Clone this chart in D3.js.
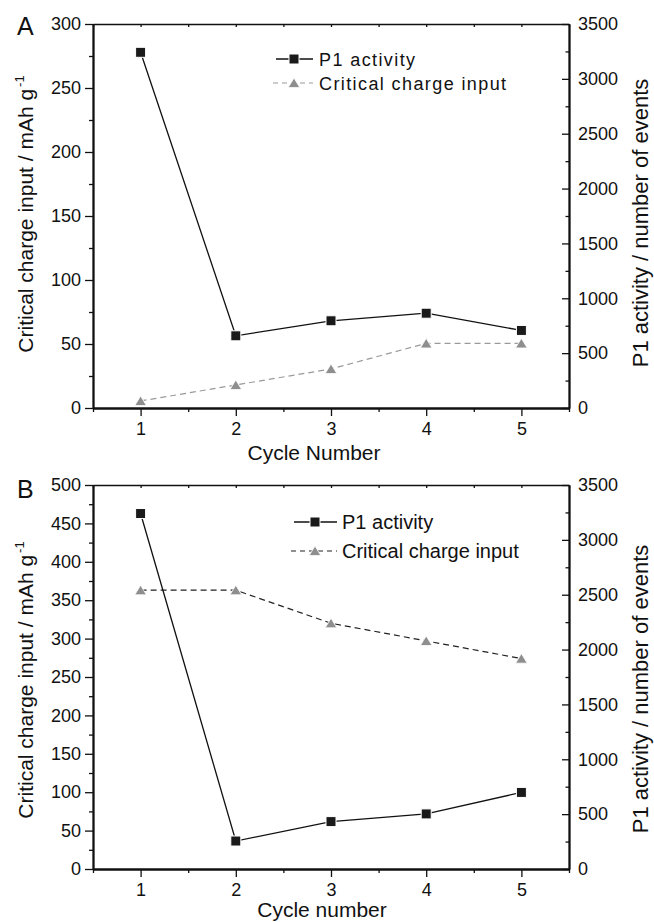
<!DOCTYPE html>
<html><head><meta charset="utf-8">
<script src="https://cdn.jsdelivr.net/npm/d3@7"></script>
<style>body{margin:0;background:#fff}svg{display:block}</style>
</head><body>
<svg id="c" width="654" height="922"></svg>
<script>
// ---- data ----
const cycles = [1, 2, 3, 4, 5];
const xTickLabels = [1, 2, 3, 4, 5];
const xMinorTicks = [0.5, 1.5, 2.5, 3.5, 4.5, 5.5];
const rightTicks = [0, 500, 1000, 1500, 2000, 2500, 3000, 3500];
const rightMinor = [250, 750, 1250, 1750, 2250, 2750, 3250];

const leftTicksA = [0, 50, 100, 150, 200, 250, 300];
const leftMinorA = [25, 75, 125, 175, 225, 275];
const p1ActivityA = [3242, 658, 795, 864, 707];
const criticalA = [5.5, 18, 30.5, 50.5, 50.5];

const leftTicksB = [0, 50, 100, 150, 200, 250, 300, 350, 400, 450, 500];
const leftMinorB = [25, 75, 125, 175, 225, 275, 325, 375, 425, 475];
const p1ActivityB = [3240, 255, 432, 502, 698];
const criticalB = [363, 363, 320, 297, 274];

const seriesNames = ["P1 activity", "Critical charge input"];
const leftTitle = "Critical charge input / mAh g";
const rightTitle = "P1 activity / number of events";

const FONT = "'Liberation Sans', Arial, Helvetica, sans-serif";
const svg = d3.select("#c");

const panels = [
  {letter: "A", top: 24, bottom: 408, leftTicks: leftTicksA, leftMinor: leftMinorA,
   p1: p1ActivityA, crit: criticalA, xTitle: "Cycle Number", critLine: "#9a9a9a",
   xTitleX: 314, xTitleY: 460, leftTitleY: 214, rightTitleY: 223, letterY: 35,
   leg: {lx1: 276, lx2: 313, mx: 294, tx: 319, y1: 59, y2: 83, fs: 18, ls: 1.4}},
  {letter: "B", top: 485, bottom: 869, leftTicks: leftTicksB, leftMinor: leftMinorB,
   p1: p1ActivityB, crit: criticalB, xTitle: "Cycle number", critLine: "#222",
   xTitleX: 322, xTitleY: 917, leftTitleY: 680, rightTitleY: 689, letterY: 498,
   leg: {lx1: 294, lx2: 337, mx: 315, tx: 342, y1: 522, y2: 551, fs: 20, ls: 0}}
];

const L = 93, R = 569;
const triPath = `M0,-5L5.8,4.6L-5.8,4.6Z`;

function styleAxis(g, fs) {
  g.attr("font-family", FONT).attr("font-size", fs);
  g.selectAll("path.domain").attr("stroke", "#111").attr("stroke-width", 1.8);
  g.selectAll(".tick line").attr("stroke", "#111").attr("stroke-width", 1.3);
  g.selectAll(".tick text").attr("fill", "#111");
}

panels.forEach(p => {
  const x = d3.scaleLinear().domain([0.5, 5.5]).range([L, R]);
  const leftMax = p.leftTicks[p.leftTicks.length - 1];
  const yL = d3.scaleLinear().domain([0, leftMax]).range([p.bottom, p.top]);
  const yR = d3.scaleLinear().domain([0, 3500]).range([p.bottom, p.top]);

  // top frame with small inward ticks
  const gTop = svg.append("g").attr("transform", `translate(0,${p.top})`)
    .call(d3.axisBottom(x).tickValues(d3.merge([xTickLabels, xMinorTicks])).tickSize(3).tickSizeOuter(0).tickFormat(""));
  styleAxis(gTop, 18);
  gTop.selectAll("path.domain").attr("stroke-width", 1.5);

  // bottom axis
  const gB = svg.append("g").attr("transform", `translate(0,${p.bottom})`)
    .call(d3.axisBottom(x).tickValues(xTickLabels).tickSize(8).tickPadding(6).tickSizeOuter(0).tickFormat(d3.format("d")));
  styleAxis(gB, 18);
  const gBm = svg.append("g").attr("transform", `translate(0,${p.bottom})`)
    .call(d3.axisBottom(x).tickValues(xMinorTicks).tickSize(4).tickSizeOuter(0).tickFormat(""));
  styleAxis(gBm, 18);

  // left axis
  const gL = svg.append("g").attr("transform", `translate(${L},0)`)
    .call(d3.axisLeft(yL).tickValues(p.leftTicks).tickSize(8).tickPadding(4).tickSizeOuter(0).tickFormat(d3.format("d")));
  styleAxis(gL, 18);
  const gLm = svg.append("g").attr("transform", `translate(${L},0)`)
    .call(d3.axisLeft(yL).tickValues(p.leftMinor).tickSize(4).tickSizeOuter(0).tickFormat(""));
  styleAxis(gLm, 18);

  // right axis (ticks inward)
  const gR = svg.append("g").attr("transform", `translate(${R},0)`)
    .call(d3.axisRight(yR).tickValues(rightTicks).tickSize(-7).tickPadding(9).tickSizeOuter(0).tickFormat(d3.format("d")));
  styleAxis(gR, 18);
  const gRm = svg.append("g").attr("transform", `translate(${R},0)`)
    .call(d3.axisRight(yR).tickValues(rightMinor).tickSize(-3.5).tickSizeOuter(0).tickFormat(""));
  styleAxis(gRm, 18);

  // critical charge (left axis) dashed line + triangles
  const critData = cycles.map((c, i) => [c, p.crit[i]]);
  svg.append("path").datum(critData)
    .attr("d", d3.line().x(d => x(d[0])).y(d => yL(d[1])))
    .attr("fill", "none").attr("stroke", p.critLine).attr("stroke-width", 1.2).attr("stroke-dasharray", "6,4");
  svg.selectAll(null).data(critData).enter().append("path")
    .attr("transform", d => `translate(${x(d[0])},${yL(d[1])})`)
    .attr("d", triPath).attr("fill", "#8e8e8e").attr("stroke", "#fff").attr("stroke-width", 0.8);

  // P1 activity (right axis) solid line + squares
  const p1Data = cycles.map((c, i) => [c, p.p1[i]]);
  svg.append("path").datum(p1Data)
    .attr("d", d3.line().x(d => x(d[0])).y(d => yR(d[1])))
    .attr("fill", "none").attr("stroke", "#111").attr("stroke-width", 1.3);
  svg.selectAll(null).data(p1Data).enter().append("rect")
    .attr("x", d => x(d[0]) - 5).attr("y", d => yR(d[1]) - 5)
    .attr("width", 10).attr("height", 10)
    .attr("fill", "#1a1a1a").attr("stroke", "#fff").attr("stroke-width", 1);

  // legend
  const lg = p.leg;
  svg.append("line").attr("x1", lg.lx1).attr("x2", lg.lx2).attr("y1", lg.y1).attr("y2", lg.y1)
    .attr("stroke", "#111").attr("stroke-width", 1.3);
  svg.append("rect").attr("x", lg.mx - 5).attr("y", lg.y1 - 5).attr("width", 10).attr("height", 10)
    .attr("fill", "#1a1a1a").attr("stroke", "#fff").attr("stroke-width", 1);
  svg.append("line").attr("x1", lg.lx1 - 3).attr("x2", lg.lx2).attr("y1", lg.y2).attr("y2", lg.y2)
    .attr("stroke", p.critLine).attr("stroke-width", 1.2).attr("stroke-dasharray", "5,4");
  svg.append("path").attr("transform", `translate(${lg.mx},${lg.y2})`).attr("d", triPath)
    .attr("fill", "#8e8e8e").attr("stroke", "#fff").attr("stroke-width", 0.8);
  [lg.y1, lg.y2].forEach((yy, i) => {
    svg.append("text").attr("x", lg.tx).attr("y", yy + 6.5)
      .attr("font-family", FONT).attr("font-size", lg.fs).attr("letter-spacing", lg.ls)
      .attr("fill", "#111").text(seriesNames[i]);
  });

  // axis titles
  svg.append("text").attr("x", p.xTitleX).attr("y", p.xTitleY).attr("text-anchor", "middle")
    .attr("font-family", FONT).attr("font-size", 21).attr("fill", "#111").text(p.xTitle);
  const lt = svg.append("text").attr("transform", `translate(33,${p.leftTitleY}) rotate(-90)`)
    .attr("text-anchor", "middle").attr("font-family", FONT).attr("font-size", 21).attr("fill", "#111");
  lt.append("tspan").text(leftTitle);
  lt.append("tspan").attr("dy", -9).attr("dx", 2).attr("font-size", 13).text("-1");
  svg.append("text").attr("transform", `translate(648,${p.rightTitleY}) rotate(-90)`)
    .attr("text-anchor", "middle").attr("font-family", FONT).attr("font-size", 22).attr("fill", "#111").text(rightTitle);

  // panel letter
  svg.append("text").attr("x", 17).attr("y", p.letterY)
    .attr("font-family", FONT).attr("font-size", 25).attr("fill", "#111").text(p.letter);
});
</script>
</body></html>
